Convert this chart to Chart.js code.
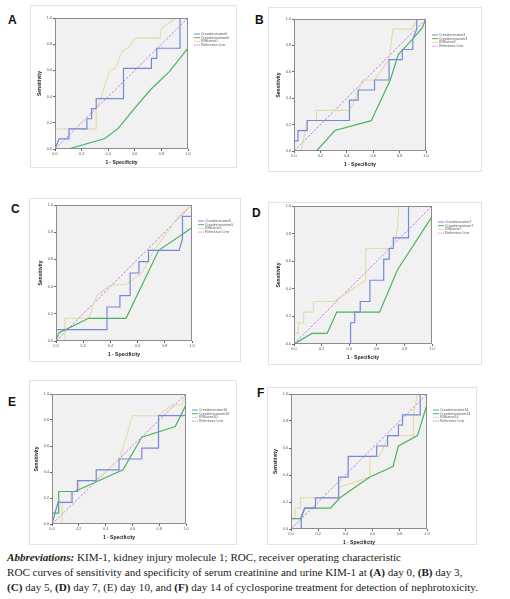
<!DOCTYPE html>
<html>
<head>
<meta charset="utf-8">
<script src="https://cdn.jsdelivr.net/npm/chart.js@4.4.1/dist/chart.umd.min.js"></script>
<style>
  body { margin: 0; background: #fff; width: 510px; height: 599px; position: relative; overflow: hidden; }
  .frame { position: absolute; border: 1px solid #dde3ea; box-sizing: border-box; }
  canvas { position: absolute; }
  .tag { position: absolute; font: bold 12px "Liberation Sans", Arial, sans-serif; color: #111; line-height: 12px; }
  .caption { position: absolute; left: 7px; top: 550px; font: 11.1px "Liberation Serif", serif; line-height: 14.8px; color: #222; white-space: nowrap; }
</style>
</head>
<body>

<div class="tag" style="left:8px;top:14px">A</div>
<div class="tag" style="left:255px;top:14px">B</div>
<div class="tag" style="left:11px;top:203px">C</div>
<div class="tag" style="left:252px;top:207px">D</div>
<div class="tag" style="left:8px;top:396px">E</div>
<div class="tag" style="left:257px;top:387px">F</div>

<div class="caption"><b><i>Abbreviations:</i></b> KIM-1, kidney injury molecule 1; ROC, receiver operating characteristic<br>ROC curves of sensitivity and specificity of serum creatinine and urine KIM-1 at <b>(A)</b> day 0, <b>(B)</b> day 3,<br><b>(C)</b> day 5, <b>(D)</b> day 7, (E) day 10, and <b>(F)</b> day 14 of cyclosporine treatment for detection of nephrotoxicity.</div>

<script>
const tickLabels = ['0.0', '0.2', '0.4', '0.6', '0.8', '1.0'];
const days = [0, 3, 5, 7, 10, 14];

// [1 - specificity, sensitivity]
const creatUrineA = [[0,0],[0.03,0.077],[0.105,0.077],[0.105,0.154],[0.24,0.154],[0.24,0.231],[0.275,0.231],[0.275,0.308],[0.31,0.308],[0.31,0.385],[0.515,0.385],[0.515,0.615],[0.725,0.615],[0.725,0.692],[0.765,0.692],[0.765,0.769],[0.94,0.769],[0.94,1],[1,1]];
const creatSerumA = [[0,0],[0.1,0],[0.375,0.08],[0.475,0.157],[0.59,0.3],[0.725,0.46],[0.86,0.59],[1,0.77],[1,1]];
const kimUrineA = [[0,0],[0,0.154],[0.31,0.154],[0.31,0.31],[0.34,0.37],[0.41,0.6],[0.45,0.615],[0.51,0.754],[0.55,0.77],[0.6,0.846],[0.79,0.846],[0.8,0.923],[0.91,1],[1,1]];

const creatUrineB = [[0,0],[0,0.077],[0.03,0.077],[0.03,0.154],[0.1,0.154],[0.1,0.231],[0.42,0.231],[0.42,0.385],[0.486,0.385],[0.486,0.462],[0.61,0.462],[0.61,0.538],[0.72,0.538],[0.72,0.692],[0.82,0.692],[0.82,0.769],[0.9,0.769],[0.9,0.846],[0.93,0.923],[0.93,1],[1,1]];
const creatSerumB = [[0,0],[0.17,0],[0.31,0.155],[0.585,0.23],[0.73,0.54],[0.79,0.73],[0.9,0.85],[0.97,0.93],[1,1]];
const kimUrineB = [[0,0],[0.055,0],[0.1,0.231],[0.17,0.231],[0.17,0.308],[0.42,0.308],[0.46,0.385],[0.49,0.462],[0.52,0.538],[0.61,0.538],[0.72,0.692],[0.75,0.923],[0.89,0.923],[0.94,1],[1,1]];

const creatUrineC = [[0,0],[0,0.083],[0.375,0.083],[0.375,0.25],[0.47,0.25],[0.47,0.333],[0.545,0.333],[0.545,0.5],[0.61,0.5],[0.61,0.583],[0.68,0.583],[0.68,0.667],[0.905,0.667],[0.93,0.75],[0.93,0.917],[1,0.917],[1,1]];
const creatSerumC = [[0,0],[0.02,0.06],[0.24,0.167],[0.515,0.167],[0.755,0.667],[1,0.833],[1,1]];
const kimUrineC = [[0,0],[0.065,0],[0.065,0.167],[0.24,0.167],[0.3,0.333],[0.4,0.41],[0.52,0.417],[0.63,0.5],[0.72,0.667],[0.82,0.8],[0.9,0.917],[1,1]];

const creatUrineD = [[0,0],[0.41,0],[0.41,0.154],[0.44,0.154],[0.44,0.231],[0.48,0.231],[0.48,0.308],[0.55,0.308],[0.55,0.462],[0.65,0.462],[0.65,0.615],[0.69,0.615],[0.69,0.692],[0.72,0.692],[0.72,0.769],[0.83,0.769],[0.83,1],[1,1]];
const creatSerumD = [[0,0],[0.13,0.077],[0.24,0.077],[0.31,0.231],[0.62,0.231],[0.75,0.538],[1,0.923],[1,1]];
const kimUrineD = [[0,0],[0,0.077],[0.03,0.077],[0.03,0.154],[0.07,0.154],[0.07,0.231],[0.14,0.231],[0.14,0.308],[0.29,0.308],[0.52,0.462],[0.52,0.692],[0.72,0.692],[0.75,0.846],[0.76,1],[1,1]];

const creatUrineE = [[0,0],[0.045,0.167],[0.15,0.167],[0.15,0.25],[0.19,0.25],[0.19,0.333],[0.33,0.333],[0.33,0.417],[0.5,0.417],[0.5,0.5],[0.67,0.5],[0.67,0.583],[0.795,0.583],[0.795,0.833],[1,0.833],[1,1]];
const creatSerumE = [[0,0],[0,0.083],[0.05,0.083],[0.05,0.25],[0.17,0.25],[0.53,0.417],[0.67,0.667],[0.92,0.75],[1,0.917],[1,1]];
const kimUrineE = [[0,0],[0.075,0],[0.075,0.167],[0.14,0.167],[0.14,0.25],[0.2,0.25],[0.2,0.333],[0.32,0.333],[0.42,0.417],[0.5,0.5],[0.53,0.583],[0.6,0.833],[0.79,0.833],[0.9,0.917],[0.97,0.917],[1,1]];

const creatUrineF = [[0,0],[0.075,0],[0.075,0.077],[0.1,0.154],[0.18,0.154],[0.18,0.231],[0.35,0.231],[0.35,0.385],[0.42,0.385],[0.42,0.538],[0.63,0.538],[0.63,0.615],[0.71,0.615],[0.71,0.692],[0.79,0.692],[0.79,0.769],[0.82,0.769],[0.82,0.846],[0.95,0.846],[0.95,1],[1,1]];
const creatSerumF = [[0,0],[0,0.077],[0.07,0.077],[0.1,0.154],[0.29,0.154],[0.36,0.231],[0.58,0.385],[0.75,0.462],[0.79,0.615],[0.93,0.692],[1,0.923],[1,1]];
const kimUrineF = [[0,0],[0,0.077],[0.03,0.077],[0.03,0.154],[0.07,0.154],[0.07,0.231],[0.35,0.231],[0.35,0.308],[0.58,0.385],[0.58,0.538],[0.65,0.538],[0.72,0.692],[0.9,0.692],[0.9,0.846],[0.93,1],[1,1]];

const referenceLine = [[0,0],[1,1]];

// frame box and plot box of each panel (page pixels)
const panels = [
  { frame: [30, 5, 237, 168], plot: [55, 18, 188, 149], series: [creatUrineA, creatSerumA, kimUrineA] },
  { frame: [268, 7, 482, 172], plot: [294, 19, 426, 151], series: [creatUrineB, creatSerumB, kimUrineB] },
  { frame: [29, 198, 241, 362], plot: [56, 205, 192, 341], series: [creatUrineC, creatSerumC, kimUrineC] },
  { frame: [268, 202, 482, 365], plot: [294, 206, 432, 344], series: [creatUrineD, creatSerumD, kimUrineD] },
  { frame: [29, 380, 237, 545], plot: [52, 394, 186, 524], series: [creatUrineE, creatSerumE, kimUrineE] },
  { frame: [267, 387, 477, 545], plot: [291, 394, 427, 529], series: [creatUrineF, creatSerumF, kimUrineF] }
];

const Y_AXIS_W = 18;
const X_AXIS_H = 17;

const plotBox = {
  id: 'plotBox',
  beforeDatasetsDraw(chart) {
    const { ctx, chartArea: a } = chart;
    ctx.save();
    ctx.fillStyle = '#f1f1f1';
    ctx.fillRect(a.left, a.top, a.right - a.left, a.bottom - a.top);
    ctx.restore();
  },
  afterDatasetsDraw(chart) {
    const { ctx, chartArea: a } = chart;
    ctx.save();
    ctx.strokeStyle = '#8c8c8c';
    ctx.lineWidth = 1;
    ctx.strokeRect(a.left + 0.5, a.top + 0.5, a.right - a.left - 1, a.bottom - a.top - 1);
    ctx.restore();
  }
};

const miniLegend = {
  id: 'miniLegend',
  afterDraw(chart) {
    const { ctx, chartArea: a } = chart;
    ctx.save();
    ctx.font = '3.6px "Liberation Sans", Arial, sans-serif';
    ctx.textBaseline = 'middle';
    chart.data.datasets.forEach((d, i) => {
      const y = a.top + 16 + i * 3.7;
      ctx.strokeStyle = d.borderColor;
      ctx.lineWidth = 1;
      ctx.setLineDash(d.borderDash ? [1.5, 1] : []);
      ctx.beginPath();
      ctx.moveTo(a.right + 6, y);
      ctx.lineTo(a.right + 12, y);
      ctx.stroke();
      ctx.setLineDash([]);
      ctx.fillStyle = '#555';
      ctx.fillText(d.label, a.right + 13, y);
    });
    ctx.restore();
  }
};

function toPoints(arr) {
  return arr.map(([x, y]) => ({ x, y }));
}

panels.forEach((p, i) => {
  const [fl, ft, fr, fb] = p.frame;
  const [pl, pt, pr, pb] = p.plot;

  const frame = document.createElement('div');
  frame.className = 'frame';
  frame.style.left = fl + 'px';
  frame.style.top = ft + 'px';
  frame.style.width = (fr - fl) + 'px';
  frame.style.height = (fb - ft) + 'px';
  document.body.appendChild(frame);

  const canvas = document.createElement('canvas');
  canvas.width = fr - fl;
  canvas.height = fb - ft;
  canvas.style.left = fl + 'px';
  canvas.style.top = ft + 'px';
  document.body.appendChild(canvas);

  const day = days[i];
  const [urine, serum, kim] = p.series;

  new Chart(canvas, {
    type: 'scatter',
    data: {
      datasets: [
        { label: 'Creatinineurine' + day, data: toPoints(urine), borderColor: '#7489dc', borderWidth: 1.2 },
        { label: 'Creatinineserum' + day, data: toPoints(serum), borderColor: '#4cb35a', borderWidth: 1.2 },
        { label: 'KIMurine' + day, data: toPoints(kim), borderColor: '#e6d9ab', borderWidth: 1.1 },
        { label: 'Reference Line', data: toPoints(referenceLine), borderColor: '#c386dd', borderWidth: 1, borderDash: [2.5, 1.5] }
      ]
    },
    options: {
      responsive: false,
      animation: false,
      showLine: true,
      elements: { point: { radius: 0 }, line: { tension: 0 } },
      layout: {
        padding: {
          left: pl - fl - Y_AXIS_W,
          top: pt - ft,
          right: fr - pr,
          bottom: fb - pb - X_AXIS_H
        }
      },
      plugins: { legend: { display: false }, tooltip: { enabled: false } },
      scales: {
        x: {
          type: 'linear', min: 0, max: 1,
          afterFit: s => { s.height = X_AXIS_H; },
          grid: { drawOnChartArea: false, drawTicks: true, tickLength: 2, color: '#666' },
          border: { display: false },
          ticks: { stepSize: 0.2, padding: 1, maxRotation: 0, color: '#555',
                   font: { size: 3.8, family: '"Liberation Sans", Arial, sans-serif' },
                   callback: (v, idx) => tickLabels[idx] },
          title: { display: true, text: '1 - Specificity', color: '#222', padding: { top: 2, bottom: 0 },
                   font: { size: 5, weight: 'bold', family: '"Liberation Sans", Arial, sans-serif' } }
        },
        y: {
          type: 'linear', min: 0, max: 1,
          afterFit: s => { s.width = Y_AXIS_W; },
          grid: { drawOnChartArea: false, drawTicks: true, tickLength: 2, color: '#666' },
          border: { display: false },
          ticks: { stepSize: 0.2, padding: 1, color: '#555',
                   font: { size: 3.8, family: '"Liberation Sans", Arial, sans-serif' },
                   callback: (v, idx) => tickLabels[idx] },
          title: { display: true, text: 'Sensitivity', color: '#222', padding: { top: 0, bottom: 2 },
                   font: { size: 5, weight: 'bold', family: '"Liberation Sans", Arial, sans-serif' } }
        }
      }
    },
    plugins: [plotBox, miniLegend]
  });
});
</script>
</body>
</html>
